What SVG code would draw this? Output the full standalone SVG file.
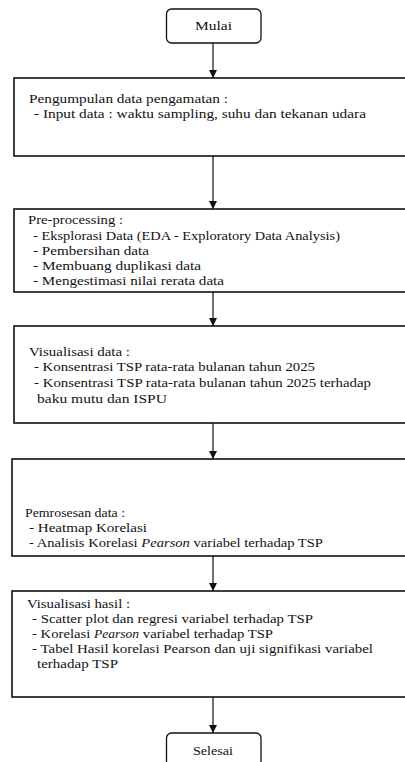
<svg xmlns="http://www.w3.org/2000/svg" width="405" height="762" viewBox="0 0 405 762">
<style>
.t{font-family:"Liberation Serif","Times New Roman",serif;font-size:13px;fill:#111}
.c{text-anchor:middle}
.box{fill:#fff;stroke:#111;stroke-width:1.6}
.rbox{fill:#fff;stroke:#111;stroke-width:1.3}
.con{stroke:#111;stroke-width:1.2;fill:none}
</style>
<defs>
<marker id="ah" viewBox="0 0 10 10" refX="10" refY="5" markerWidth="8" markerHeight="8" markerUnits="userSpaceOnUse" orient="auto">
<path d="M0,0 L10,5 L0,10 Z" fill="#111"/>
</marker>
</defs>
<rect width="405" height="762" fill="#fff"/>
<g id="connectors">
<line class="con" x1="213" y1="43" x2="213" y2="78" marker-end="url(#ah)"/>
<line class="con" x1="213" y1="156" x2="213" y2="209" marker-end="url(#ah)"/>
<line class="con" x1="213" y1="292" x2="213" y2="326" marker-end="url(#ah)"/>
<line class="con" x1="213" y1="423" x2="213" y2="459" marker-end="url(#ah)"/>
<line class="con" x1="213" y1="556" x2="213" y2="591" marker-end="url(#ah)"/>
<line class="con" x1="213" y1="697" x2="213" y2="733" marker-end="url(#ah)"/>
</g>
<g id="mulai">
<rect class="rbox" x="166.5" y="9" width="94.5" height="34" rx="5"/>
<text class="t" x="195" y="30" textLength="37" lengthAdjust="spacingAndGlyphs">Mulai</text>
</g>
<g id="pengumpulan">
<rect class="box" x="14" y="78" width="400" height="78"/>
<text class="t" x="29" y="103" textLength="199" lengthAdjust="spacingAndGlyphs">Pengumpulan  data pengamatan :</text>
<text class="t" x="34" y="118" textLength="332" lengthAdjust="spacingAndGlyphs">- Input data : waktu sampling,  suhu dan tekanan udara</text>
</g>
<g id="preprocessing">
<rect class="box" x="14" y="209" width="400" height="83"/>
<text class="t" x="28" y="224" textLength="95" lengthAdjust="spacingAndGlyphs">Pre-processing :</text>
<text class="t" x="33" y="240" textLength="307" lengthAdjust="spacingAndGlyphs">- Eksplorasi Data (EDA - Exploratory Data Analysis)</text>
<text class="t" x="33" y="255" textLength="116" lengthAdjust="spacingAndGlyphs">- Pembersihan data</text>
<text class="t" x="33" y="270" textLength="168" lengthAdjust="spacingAndGlyphs">- Membuang  duplikasi data</text>
<text class="t" x="33" y="285" textLength="191" lengthAdjust="spacingAndGlyphs">- Mengestimasi nilai rerata data</text>
</g>
<g id="visualisasi-data">
<rect class="box" x="14" y="326" width="400" height="97"/>
<text class="t" x="29" y="356" textLength="101" lengthAdjust="spacingAndGlyphs">Visualisasi  data :</text>
<text class="t" x="34" y="371" textLength="281" lengthAdjust="spacingAndGlyphs">- Konsentrasi TSP rata-rata bulanan tahun 2025</text>
<text class="t" x="34" y="387" textLength="337" lengthAdjust="spacingAndGlyphs">- Konsentrasi TSP rata-rata bulanan tahun 2025 terhadap</text>
<text class="t" x="37" y="403" textLength="130" lengthAdjust="spacingAndGlyphs">baku mutu dan ISPU</text>
</g>
<g id="pemrosesan">
<rect class="box" x="12" y="459" width="400" height="97"/>
<text class="t" x="25" y="517" textLength="100" lengthAdjust="spacingAndGlyphs">Pemrosesan data :</text>
<text class="t" x="29" y="532" textLength="118" lengthAdjust="spacingAndGlyphs">- Heatmap Korelasi</text>
<text class="t" x="29" y="547" textLength="294" lengthAdjust="spacingAndGlyphs">- Analisis Korelasi <tspan font-style="italic">Pearson</tspan>  variabel terhadap TSP</text>
</g>
<g id="visualisasi-hasil">
<rect class="box" x="12" y="591" width="400" height="106"/>
<text class="t" x="27" y="608" textLength="103" lengthAdjust="spacingAndGlyphs">Visualisasi  hasil :</text>
<text class="t" x="32" y="623" textLength="281" lengthAdjust="spacingAndGlyphs">- Scatter plot dan regresi variabel terhadap TSP</text>
<text class="t" x="32" y="638" textLength="241" lengthAdjust="spacingAndGlyphs">- Korelasi <tspan font-style="italic" font-size="12">Pearson</tspan>  variabel terhadap TSP</text>
<text class="t" x="32" y="653" textLength="341" lengthAdjust="spacingAndGlyphs">- Tabel Hasil korelasi Pearson dan uji signifikasi variabel</text>
<text class="t" x="37" y="668" textLength="81" lengthAdjust="spacingAndGlyphs">terhadap TSP</text>
</g>
<g id="selesai">
<rect class="rbox" x="166.5" y="733" width="94.5" height="40" rx="5"/>
<text class="t" x="193" y="755" textLength="40" lengthAdjust="spacingAndGlyphs">Selesai</text>
</g>
</svg>
